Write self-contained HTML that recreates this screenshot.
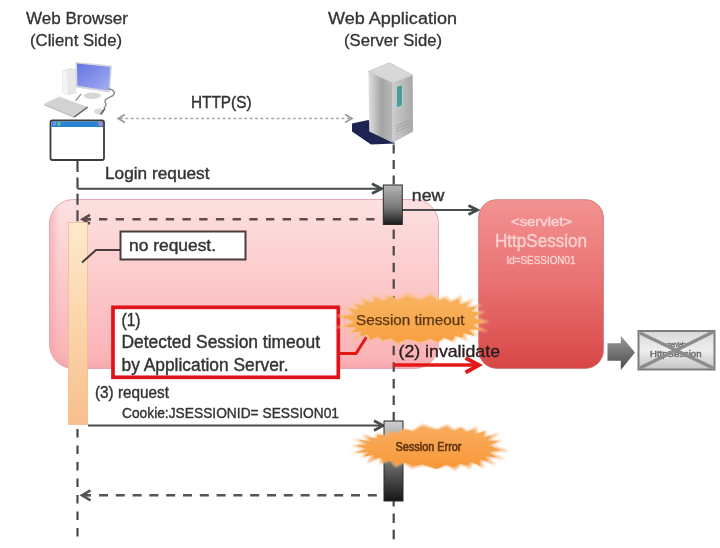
<!DOCTYPE html>
<html><head><meta charset="utf-8">
<style>
html,body{margin:0;padding:0;background:#fff;width:720px;height:548px;overflow:hidden}
svg{display:block}
text{font-family:"Liberation Sans",sans-serif}
.t{fill:#333;stroke:#333;stroke-width:0.4}
svg{filter:blur(0.5px)}
</style></head>
<body>
<svg width="720" height="548" viewBox="0 0 720 548">
<defs>
  <linearGradient id="gPink" x1="0" y1="0" x2="0" y2="1">
    <stop offset="0" stop-color="#fde0e0"/>
    <stop offset="0.5" stop-color="#fcc9cb"/>
    <stop offset="1" stop-color="#f9b0b3"/>
  </linearGradient>
  <linearGradient id="gSess" x1="0" y1="0" x2="0" y2="1">
    <stop offset="0" stop-color="#f39292"/>
    <stop offset="0.45" stop-color="#ea7474"/>
    <stop offset="1" stop-color="#d84646"/>
  </linearGradient>
  <linearGradient id="gOrange" x1="0" y1="0" x2="0" y2="1">
    <stop offset="0" stop-color="#feeacb"/>
    <stop offset="1" stop-color="#f8bf8c"/>
  </linearGradient>
  <linearGradient id="gBar1" x1="0" y1="0" x2="0" y2="1">
    <stop offset="0" stop-color="#b4b4b4"/>
    <stop offset="0.55" stop-color="#7a7a7a"/>
    <stop offset="1" stop-color="#1a1a1a"/>
  </linearGradient>
  <linearGradient id="gBar2" x1="0" y1="0" x2="0" y2="1">
    <stop offset="0" stop-color="#d0d0d0"/>
    <stop offset="1" stop-color="#161616"/>
  </linearGradient>
  <linearGradient id="gGrayArrow" x1="0" y1="0" x2="0" y2="1">
    <stop offset="0" stop-color="#9a9a9a"/>
    <stop offset="1" stop-color="#4a4a4a"/>
  </linearGradient>
  <linearGradient id="gCross" x1="0" y1="0" x2="0" y2="1">
    <stop offset="0" stop-color="#d8d8d8"/>
    <stop offset="0.5" stop-color="#eeeeee"/>
    <stop offset="1" stop-color="#c4c4c4"/>
  </linearGradient>
  <linearGradient id="gScreen" x1="0" y1="0" x2="1" y2="1">
    <stop offset="0" stop-color="#6474e2"/>
    <stop offset="1" stop-color="#a4b0f2"/>
  </linearGradient>
  <linearGradient id="gSrvFront" x1="0" y1="0" x2="1" y2="0">
    <stop offset="0" stop-color="#e0e0e0"/>
    <stop offset="0.55" stop-color="#a4a4a4"/>
    <stop offset="1" stop-color="#b8b8b8"/>
  </linearGradient>
  <linearGradient id="gSrvSide" x1="0" y1="0" x2="1" y2="0">
    <stop offset="0" stop-color="#cccccc"/>
    <stop offset="1" stop-color="#a8a8a8"/>
  </linearGradient>
  <filter id="soft" x="-10%" y="-30%" width="120%" height="160%"><feGaussianBlur stdDeviation="1"/></filter>
  <filter id="soft2" x="-10%" y="-30%" width="120%" height="160%"><feGaussianBlur stdDeviation="0.5"/></filter>
  <linearGradient id="gB1" x1="0" y1="0" x2="0" y2="1">
    <stop offset="0" stop-color="#f8b462"/>
    <stop offset="1" stop-color="#f8a040"/>
  </linearGradient>
  <linearGradient id="gB2" x1="0" y1="0" x2="0" y2="1">
    <stop offset="0" stop-color="#f9ac5e"/>
    <stop offset="1" stop-color="#f8983a"/>
  </linearGradient>
  <filter id="blur4" x="-10%" y="-10%" width="120%" height="120%"><feGaussianBlur stdDeviation="3"/></filter>
</defs>

<!-- Headers -->
<g class="t" font-size="16" style="stroke-width:0.3">
  <text x="26" y="23.5" textLength="102" lengthAdjust="spacingAndGlyphs">Web Browser</text>
  <text x="30" y="46" textLength="92" lengthAdjust="spacingAndGlyphs">(Client Side)</text>
  <text x="328" y="23.5" textLength="129" lengthAdjust="spacingAndGlyphs">Web Application</text>
  <text x="344" y="46" textLength="98" lengthAdjust="spacingAndGlyphs">(Server Side)</text>
</g>

<!-- Pink area -->
<clipPath id="cpPink"><rect x="49.5" y="199.5" width="389" height="169" rx="24"/></clipPath>
<rect x="49.5" y="199.5" width="389" height="169" rx="24" fill="url(#gPink)"/>
<g clip-path="url(#cpPink)"><rect x="49.5" y="170" width="420" height="198.5" rx="24" fill="none" stroke="#f4a0a6" stroke-opacity="0.6" stroke-width="10" filter="url(#blur4)"/></g>
<rect x="49.5" y="199.5" width="389" height="169" rx="24" fill="none" stroke="#e2aab0" stroke-width="1"/>

<!-- Lifelines -->
<g stroke="#4c4848" stroke-width="2.2">
<line x1="77.5" y1="161" x2="77.5" y2="222" stroke-dasharray="11 5.4"/>
<line x1="77.5" y1="429" x2="77.5" y2="538" stroke-dasharray="8.5 8"/>
<line x1="393.7" y1="144.5" x2="393.7" y2="185" stroke-dasharray="9 6.5"/>
<line x1="393.7" y1="229.5" x2="393.7" y2="421" stroke-dasharray="9.5 7.1"/>
<line x1="393.7" y1="497" x2="393.7" y2="539.5" stroke-dasharray="9.5 6.9"/>
</g>

<!-- Computer icon -->
<g>
  <polygon points="62.5,71 70,68.5 75.5,69.5 75.5,93.5 67.5,94.5 62.5,92" fill="#e8e8e8" stroke="#d6d6d6" stroke-width="0.6"/>
  <polygon points="62.5,71 67,70.5 67.5,94.5 62.5,92" fill="#f4f4f4"/>
  <polygon points="75.5,62 112,65.5 110,92.5 76,87.5" fill="#d4d6e0"/>
  <polygon points="77,63.6 110.3,67 108.6,90.4 77.4,85.8" fill="url(#gScreen)"/>
  <ellipse cx="92.4" cy="95.8" rx="8.5" ry="3.2" fill="#d6d6d6"/>
  <polygon points="44.6,103.6 59.4,96.7 87.8,107 74.2,116" fill="#d2d2d2"/>
  <polygon points="44.6,103.6 74.2,116 74.5,118 44.6,105.5" fill="#c0c0c0"/>
  <polyline points="74.2,117 87.8,107" stroke="#5a5a5a" stroke-width="1.5" fill="none"/>
  <path d="M108.3,88.8 C114,89.5 116,93 112.9,95.6 C108,98.5 103,99.5 105.5,103 C107,105 105,107 103.8,108" stroke="#8a8a8a" stroke-width="1.4" fill="none"/>
  <path d="M75.5,101 L81,94" stroke="#7a7a7a" stroke-width="1.2" fill="none"/>
  <ellipse cx="99" cy="111.5" rx="5" ry="3" fill="#dadada"/>
  <path d="M100.5,114.5 L105,108.5" stroke="#555" stroke-width="1.4"/>
</g>

<!-- Browser window icon -->
<g>
  <rect x="50.5" y="120.5" width="53.5" height="39.5" rx="2" fill="#fff" stroke="#3c3c3c" stroke-width="1.8"/>
  <rect x="51.5" y="121.5" width="51.5" height="5.5" fill="#2a82d2"/>
  <rect x="53" y="122" width="3" height="3.5" fill="#7f8fe0"/>
  <rect x="57.5" y="122" width="3" height="3.5" fill="#5fc7a0"/>
  <rect x="98.5" y="122" width="4" height="4" fill="#b088c8"/>
</g>

<!-- Server icon -->
<g>
  <polygon points="352,123.6 368.4,120 395.3,143.5 371,144.4 352,131.4" fill="#1d2452"/>
  <polygon points="368.4,71.5 392.7,82.8 392.7,142.7 369.3,131.4" fill="url(#gSrvFront)"/>
  <polygon points="392.7,82.8 412.7,75 413,131.5 392.7,142.7" fill="url(#gSrvSide)"/>
  <polygon points="368.4,71.5 389.3,62.8 412.7,75 392.7,82.8" fill="#d8d8d8" stroke="#c4c4c4" stroke-width="0.8" stroke-linejoin="round"/>
  <polygon points="396.5,86.5 402.5,84.5 402.5,105.5 396.5,108" fill="#4a9a9c" stroke="#c8d8d8" stroke-width="0.8"/>
  <g stroke="#9a9a9a" stroke-width="0.7">
    <line x1="396" y1="126" x2="409" y2="120"/>
    <line x1="396" y1="129" x2="409" y2="123"/>
    <line x1="396" y1="132" x2="409" y2="126"/>
  </g>
</g>

<!-- HTTP(S) -->
<text class="t" x="191" y="108" font-size="16.5" textLength="60.5" lengthAdjust="spacingAndGlyphs">HTTP(S)</text>
<line x1="120" y1="118.5" x2="350" y2="118.5" stroke="#aaaaaa" stroke-width="1.7" stroke-dasharray="3 2.4"/>
<polyline points="125,114.5 118,118.5 125,122.5" fill="none" stroke="#9a9a9a" stroke-width="1.6"/>
<polyline points="345,114.5 352,118.5 345,122.5" fill="none" stroke="#9a9a9a" stroke-width="1.6"/>

<!-- Login request -->
<text class="t" x="105" y="179" font-size="17.1" textLength="104.5" lengthAdjust="spacingAndGlyphs">Login request</text>
<line x1="77.5" y1="188.7" x2="381" y2="188.7" stroke="#484c4c" stroke-width="2"/>
<polyline points="372,183.8 381.5,188.7 372,193.6" fill="none" stroke="#484c4c" stroke-width="2.8"/>


<!-- new arrow -->
<text class="t" x="411.8" y="201.3" font-size="16" textLength="32.6" lengthAdjust="spacingAndGlyphs">new</text>
<line x1="402" y1="210" x2="476" y2="210" stroke="#464c4c" stroke-width="2"/>
<polyline points="468.5,205.5 477.5,210 468.5,214.5" fill="none" stroke="#464c4c" stroke-width="2.8"/>

<!-- dashed return 1 -->
<line x1="99" y1="219.3" x2="383" y2="219.3" stroke="#5e4c4c" stroke-width="2.6" stroke-dasharray="8.3 8.4"/>
<polyline points="90,214.8 82.5,219.3 90,223.8" fill="none" stroke="#5e4c4c" stroke-width="2.6"/>
<line x1="83" y1="219.3" x2="91" y2="219.3" stroke="#5e4c4c" stroke-width="2.6"/>

<!-- activation bar 1 -->
<rect x="383.3" y="185" width="19" height="39.5" fill="url(#gBar1)" stroke="#2a2a2a" stroke-width="1"/>

<!-- Orange activation bar client -->
<rect x="68.5" y="222.5" width="19" height="202" fill="url(#gOrange)" stroke="#eebc94" stroke-width="0.8"/>

<!-- no request callout -->
<polyline points="82,262.5 96,250 120.5,250" fill="none" stroke="#4a3c3c" stroke-width="2"/>
<rect x="120.5" y="231.5" width="125" height="28" fill="#fff" stroke="#4a3c3c" stroke-width="2"/>
<text class="t" x="129" y="251.2" font-size="16.2" textLength="87" lengthAdjust="spacingAndGlyphs">no request.</text>

<!-- HttpSession box -->
<rect x="478.7" y="199.7" width="124.7" height="168.7" rx="18" fill="url(#gSess)" stroke="#c87070" stroke-width="0.8"/>
<g fill="#fde8e8" fill-opacity="0.72" stroke="#fde8e8" stroke-opacity="0.6" stroke-width="0.5">
  <text x="511" y="225.5" font-size="12.5" textLength="61" lengthAdjust="spacingAndGlyphs">&lt;servlet&gt;</text>
  <text x="495" y="247" font-size="17.5" textLength="92" lengthAdjust="spacingAndGlyphs">HttpSession</text>
  <text x="506.5" y="263.5" font-size="11" textLength="69" lengthAdjust="spacingAndGlyphs">Id=SESSION01</text>
</g>

<!-- Red box -->
<rect x="113" y="307.3" width="225.3" height="70" fill="#fff" stroke="#e0121a" stroke-width="3.7"/>
<g class="t" font-size="17.6">
  <text x="121.5" y="325.5" textLength="19" lengthAdjust="spacingAndGlyphs">(1)</text>
  <text x="121.5" y="348" textLength="198.5" lengthAdjust="spacingAndGlyphs">Detected Session timeout</text>
  <text x="121.5" y="371" textLength="167" lengthAdjust="spacingAndGlyphs">by Application Server.</text>
</g>
<polyline points="339,353.6 356,353.6 366.5,337" fill="none" stroke="#e01818" stroke-width="3"/>

<!-- Session timeout starburst -->
<g>
  <polygon points="489.7,322.3 475.2,324.6 488.6,331.9 471.8,329.6 477.9,337.0 465.6,333.5 467.6,341.2 456.7,336.5 454.6,343.1 445.3,338.6 439.0,342.6 430.6,339.7 421.3,343.3 406.8,340.0 396.7,345.8 389.6,339.3 381.7,342.6 376.7,337.6 367.9,340.8 366.5,335.1 352.2,341.5 359.0,331.6 344.4,334.9 354.2,327.3 333.1,328.2 352.1,321.4 335.5,315.6 352.8,313.4 338.5,305.8 356.2,308.4 351.6,301.9 362.4,304.5 360.3,296.7 371.3,301.5 372.8,294.1 382.7,299.4 388.7,293.8 397.4,298.3 406.6,292.2 421.2,298.0 431.2,292.7 438.4,298.7 446.2,296.1 451.3,300.4 461.7,295.3 461.5,302.9 473.6,298.2 469.0,306.4 482.2,303.7 473.8,310.7 485.9,311.4 475.9,316.6" fill="#f9c080" fill-opacity="0.8" filter="url(#soft)"/>
  <polygon points="484.1,322.4 472.8,324.8 479.6,329.8 469.4,329.4 474.5,335.9 463.5,333.0 462.9,337.7 455.1,335.7 452.3,340.8 444.0,337.7 438.2,341.9 430.0,338.8 421.0,342.0 407.1,339.0 397.6,342.7 390.5,338.3 383.1,340.6 378.1,336.8 369.9,339.7 368.4,334.5 360.2,336.3 361.2,331.3 351.9,332.4 356.6,327.2 344.4,326.7 354.6,321.8 340.4,316.4 355.2,314.2 348.6,309.3 358.6,309.6 355.2,304.1 364.5,306.0 363.9,300.0 372.9,303.3 375.2,297.3 384.0,301.3 389.7,296.6 398.0,300.2 407.0,296.3 420.9,300.0 430.5,295.3 437.5,300.7 444.9,298.4 449.9,302.2 458.9,298.4 459.6,304.5 468.4,302.2 466.8,307.7 476.4,306.5 471.4,311.8 481.6,312.6 473.4,317.2" fill="url(#gB1)" filter="url(#soft2)"/>
  <text x="356" y="324.5" font-size="14" fill="#5a3810" stroke="#5a3810" stroke-width="0.25" textLength="108.5" lengthAdjust="spacingAndGlyphs">Session timeout</text>
</g>

<!-- invalidate -->
<text class="t" x="398.5" y="356.5" font-size="17" style="fill:#2a1c1c;stroke:#2a1c1c;stroke-width:0.35" textLength="101.5" lengthAdjust="spacingAndGlyphs">(2) invalidate</text>
<line x1="393" y1="365" x2="478" y2="365" stroke="#e41818" stroke-width="3.6"/>
<polyline points="465.5,358 479,365 465.5,372.5" fill="none" stroke="#e41818" stroke-width="3.8"/>

<!-- gray block arrow -->
<polygon points="607.5,343.3 620.8,343.3 620.8,335.8 635,352.5 620.8,370 620.8,360.8 607.5,360.8" fill="url(#gGrayArrow)"/>

<!-- crossed box -->
<rect x="638.5" y="331" width="76" height="38.5" fill="url(#gCross)" stroke="#7e7e7e" stroke-width="2"/>
<g fill="#666" stroke="#666" stroke-width="0.4">
  <text x="665.5" y="346.5" font-size="8" textLength="21" lengthAdjust="spacingAndGlyphs">&lt;servlet&gt;</text>
  <text x="650" y="356.5" font-size="9" textLength="51.5" lengthAdjust="spacingAndGlyphs">HttpSession</text>
</g>
<line x1="640" y1="333" x2="713" y2="368" stroke="#8c8c8c" stroke-width="3.5"/>
<line x1="713" y1="332" x2="640" y2="368" stroke="#8c8c8c" stroke-width="3.5"/>

<!-- (3) request -->
<text class="t" x="95" y="397.5" font-size="16.5" textLength="74" lengthAdjust="spacingAndGlyphs">(3) request</text>
<text class="t" x="122" y="418" font-size="15" textLength="217" lengthAdjust="spacingAndGlyphs">Cookie:JSESSIONID= SESSION01</text>
<line x1="88" y1="425.5" x2="382" y2="425.5" stroke="#484c4c" stroke-width="2"/>
<polyline points="374,420.8 383,425.5 374,430.4" fill="none" stroke="#484c4c" stroke-width="2.8"/>

<!-- activation bar 2 -->
<rect x="384" y="421" width="19" height="80" fill="url(#gBar2)" stroke="#2a2a2a" stroke-width="1"/>

<!-- Session Error starburst -->
<g>
  <polygon points="509.2,450.7 491.2,452.5 505.4,459.6 487.8,456.8 495.8,465.2 481.6,460.3 484.0,468.2 472.7,462.9 470.3,468.8 461.3,464.7 455.3,470.4 446.6,465.8 437.3,468.7 422.4,465.6 411.9,468.5 404.0,463.5 395.3,467.4 390.2,460.9 380.6,464.6 379.4,458.2 366.4,463.5 371.5,455.3 360.3,457.5 366.3,452.3 350.2,453.4 364.1,448.9 351.0,445.3 364.8,444.3 352.6,438.4 368.5,441.2 362.1,434.0 375.1,438.3 376.2,433.6 384.5,435.4 388.2,430.7 396.7,432.7 403.4,428.2 412.3,430.4 422.2,424.3 437.2,429.0 447.1,424.6 454.4,429.6 462.1,427.3 467.3,431.1 477.0,426.7 477.5,433.3 486.6,430.8 485.0,436.4 499.9,432.7 489.8,440.2 502.3,440.5 491.9,445.4" fill="#f5b070" fill-opacity="0.85" filter="url(#soft)"/>
  <polygon points="500.4,450.2 488.8,452.2 496.2,457.2 485.4,456.4 488.0,461.2 479.5,459.6 480.1,465.4 471.1,462.1 467.4,465.5 460.0,463.8 454.1,467.6 446.0,464.8 437.0,468.9 422.6,464.6 412.6,466.2 405.0,462.6 397.0,464.7 391.7,460.1 383.3,462.6 381.3,457.5 373.4,459.1 373.7,454.8 363.3,456.8 368.7,452.1 355.5,452.7 366.6,448.8 355.7,445.5 367.3,444.4 358.0,439.6 370.8,441.5 368.4,437.0 377.2,438.8 378.1,434.3 386.2,436.2 390.1,432.2 397.9,433.6 404.3,429.2 413.0,431.3 422.5,426.4 436.9,430.0 446.4,426.8 453.5,430.6 461.1,427.5 465.9,432.0 473.6,429.6 475.6,434.1 485.2,430.9 482.8,436.9 491.7,435.8 487.4,440.6 498.1,441.1 489.4,445.5" fill="url(#gB2)" filter="url(#soft2)"/>
  <text x="395.5" y="451" font-size="12" fill="#62360e" stroke="#62360e" stroke-width="0.65" textLength="66" lengthAdjust="spacingAndGlyphs">Session Error</text>
</g>

<!-- dashed return 2 -->
<line x1="99" y1="495.3" x2="383" y2="495.3" stroke="#555" stroke-width="2.6" stroke-dasharray="9 7.8"/>
<polyline points="90.5,490.3 82,495.3 90.5,500.3" fill="none" stroke="#555" stroke-width="2.6"/>
<line x1="83" y1="495.3" x2="91" y2="495.3" stroke="#555" stroke-width="2.6"/>

</svg>
</body></html>
